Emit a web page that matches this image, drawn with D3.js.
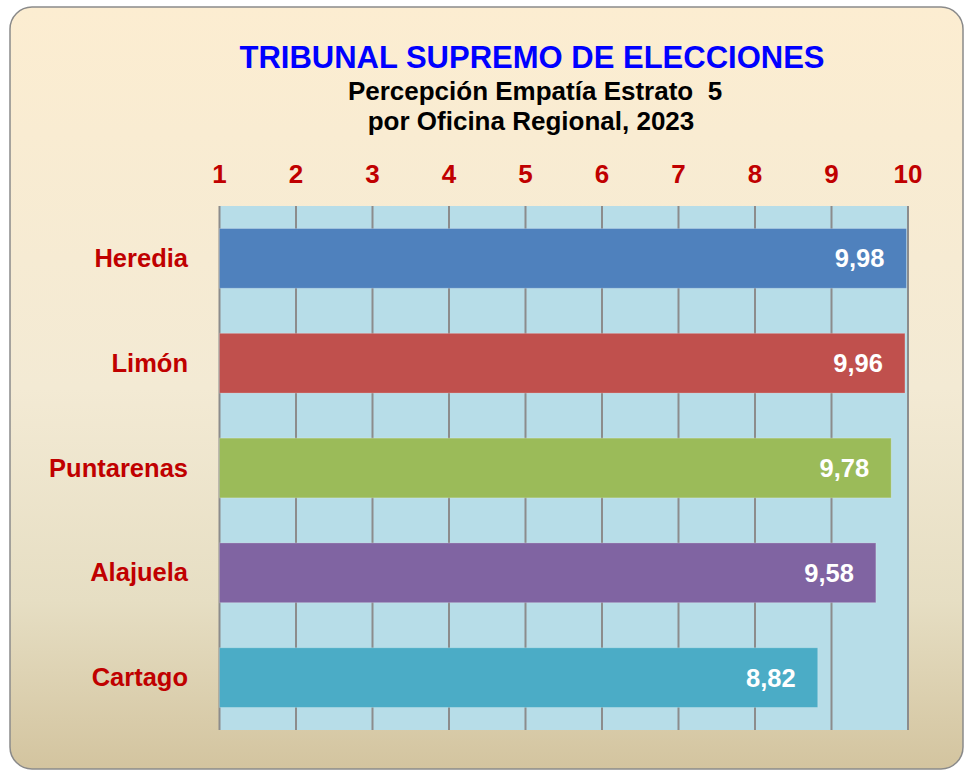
<!DOCTYPE html>
<html lang="es">
<head>
<meta charset="UTF-8">
<title>Percepción Empatía Estrato 5</title>
<script src="https://d3js.org/d3.v7.min.js"></script>
<style>
  body { margin: 0; background: #fff; }
  svg text { font-family: "Liberation Sans", Arial, sans-serif; font-weight: bold; }
</style>
</head>
<body>
<div id="chart"></div>
<script>
// data
const offices = ["Heredia", "Limón", "Puntarenas", "Alajuela", "Cartago"];
const scores = [9.98, 9.96, 9.78, 9.58, 8.82];
const barColors = ["#4f81bd", "#c0504d", "#9bbb59", "#8064a2", "#4bacc6"];
const tickValues = [1, 2, 3, 4, 5, 6, 7, 8, 9, 10];

const W = 967, H = 770;
const plot = {left: 219.5, right: 908, top: 206, bottom: 730};

const svg = d3.select("#chart").append("svg")
    .attr("width", W)
    .attr("height", H);

// background card with vertical gradient
const grad = svg.append("defs").append("linearGradient")
    .attr("id", "bg").attr("x1", 0).attr("y1", 0).attr("x2", 0).attr("y2", 1);
grad.append("stop").attr("offset", "0%").attr("stop-color", "#fcedd1");
grad.append("stop").attr("offset", "50%").attr("stop-color", "#f3ead4");
grad.append("stop").attr("offset", "78%").attr("stop-color", "#e6dec3");
grad.append("stop").attr("offset", "100%").attr("stop-color", "#d3c49f");

svg.append("rect")
    .attr("x", 10).attr("y", 7)
    .attr("width", 953).attr("height", 762)
    .attr("rx", 22).attr("ry", 22)
    .attr("fill", "url(#bg)")
    .attr("stroke", "#8a8a8a")
    .attr("stroke-width", 1.5);

// titles
svg.append("text")
    .attr("x", 532).attr("y", 68)
    .attr("text-anchor", "middle")
    .attr("fill", "#0000ff")
    .attr("font-size", 31)
    .text("TRIBUNAL SUPREMO DE ELECCIONES");

svg.append("text")
    .attr("x", 535).attr("y", 100)
    .attr("text-anchor", "middle")
    .attr("fill", "#000")
    .attr("font-size", 26)
    .style("white-space", "pre")
    .text("Percepción Empatía Estrato  5");

svg.append("text")
    .attr("x", 531).attr("y", 130)
    .attr("text-anchor", "middle")
    .attr("fill", "#000")
    .attr("font-size", 26)
    .text("por Oficina Regional, 2023");

// scales
const x = d3.scaleLinear().domain([1, 10]).range([plot.left, plot.right]);
const y = d3.scaleBand().domain(offices).range([plot.top, plot.bottom]).paddingInner(0.43).paddingOuter(0.215);

// plot area
svg.append("rect")
    .attr("x", plot.left).attr("y", plot.top)
    .attr("width", plot.right - plot.left)
    .attr("height", plot.bottom - plot.top)
    .attr("fill", "#b7dde8");

// vertical gridlines
svg.append("g").selectAll("line")
  .data(tickValues)
  .join("line")
    .attr("x1", d => x(d)).attr("x2", d => x(d))
    .attr("y1", plot.top).attr("y2", plot.bottom)
    .attr("stroke", "#8c8c8c")
    .attr("stroke-width", 2);

// top tick labels
svg.append("g").selectAll("text")
  .data(tickValues)
  .join("text")
    .attr("x", d => x(d))
    .attr("y", 183)
    .attr("text-anchor", "middle")
    .attr("fill", "#c00000")
    .attr("font-size", 26)
    .text(d => d);

// bars
const rows = offices.map((o, i) => ({office: o, value: scores[i], color: barColors[i]}));

svg.append("g").selectAll("rect")
  .data(rows)
  .join("rect")
    .attr("x", x(1))
    .attr("y", d => y(d.office))
    .attr("width", d => x(d.value) - x(1))
    .attr("height", y.bandwidth())
    .attr("fill", d => d.color)
    .attr("stroke", "rgba(255,255,255,0.22)")
    .attr("stroke-width", 1);

// value labels
svg.append("g").selectAll("text")
  .data(rows)
  .join("text")
    .attr("x", d => x(d.value) - 22)
    .attr("y", d => y(d.office) + y.bandwidth() / 2 + 9)
    .attr("text-anchor", "end")
    .attr("fill", "#fff")
    .attr("font-size", 25.5)
    .text(d => d3.format(".2f")(d.value).replace(".", ","));

// category labels
svg.append("g").selectAll("text")
  .data(offices)
  .join("text")
    .attr("x", 188)
    .attr("y", d => y(d) + y.bandwidth() / 2 + 8.5)
    .attr("text-anchor", "end")
    .attr("fill", "#c00000")
    .attr("font-size", 25.5)
    .text(d => d);
</script>
</body>
</html>
